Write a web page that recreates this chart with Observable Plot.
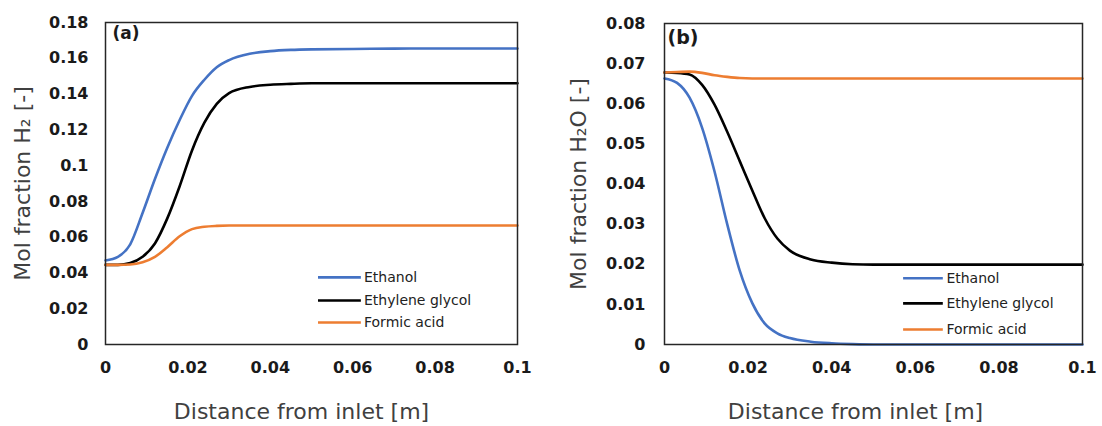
<!DOCTYPE html>
<html><head><meta charset="utf-8">
<script src="https://cdn.jsdelivr.net/npm/d3@7"></script>
<script src="https://cdn.jsdelivr.net/npm/@observablehq/plot@0.6"></script>
<style>
body{margin:0;background:#fff;}
#wrap{display:flex;width:1102px;height:426px;overflow:hidden;}
#wrap svg{overflow:visible;}
</style></head><body><div id="wrap"></div>
<script>
// ---- data ----
const distance = [0, 0.003, 0.006, 0.009, 0.012, 0.015, 0.018, 0.021, 0.024, 0.027, 0.030, 0.035, 0.040, 0.045, 0.050, 0.060, 0.070, 0.080, 0.090, 0.100];
const seriesNames = ["Ethanol", "Ethylene glycol", "Formic acid"];
const seriesColors = ["#4472C4", "#000000", "#ED7D31"];

// (a) mol fraction H2
const h2Ethanol = [0.0470, 0.0490, 0.0560, 0.0735, 0.0925, 0.1100, 0.1255, 0.1390, 0.1480, 0.1550, 0.1590, 0.1625, 0.1640, 0.1647, 0.1650, 0.1652, 0.1654, 0.1655, 0.1655, 0.1655];
const h2Glycol  = [0.0445, 0.0445, 0.0455, 0.0490, 0.0565, 0.0705, 0.0885, 0.1085, 0.1240, 0.1345, 0.1405, 0.1440, 0.1452, 0.1457, 0.1460, 0.1460, 0.1460, 0.1460, 0.1460, 0.1460];
const h2Formic  = [0.0445, 0.0445, 0.0447, 0.0460, 0.0490, 0.0544, 0.0605, 0.0645, 0.0658, 0.0663, 0.0665, 0.0665, 0.0665, 0.0665, 0.0665, 0.0665, 0.0665, 0.0665, 0.0665, 0.0665];

// (b) mol fraction H2O
const h2oEthanol = [0.0663, 0.0652, 0.0615, 0.0540, 0.0430, 0.0300, 0.0184, 0.0103, 0.0052, 0.0028, 0.0016, 0.0007, 0.0003, 0.0001, 0.0000, 0.0000, 0.0000, 0.0000, 0.0000, 0.0000];
const h2oGlycol  = [0.0678, 0.0677, 0.0673, 0.0647, 0.0597, 0.0530, 0.0457, 0.0384, 0.0314, 0.0264, 0.0234, 0.0212, 0.0204, 0.0200, 0.0199, 0.0199, 0.0199, 0.0199, 0.0199, 0.0199];
const h2oFormic  = [0.0678, 0.0679, 0.0680, 0.0677, 0.0671, 0.0667, 0.0664, 0.0663, 0.0663, 0.0663, 0.0663, 0.0663, 0.0663, 0.0663, 0.0663, 0.0663, 0.0663, 0.0663, 0.0663, 0.0663];

const xTicks = [0, 0.02, 0.04, 0.06, 0.08, 0.1];
const xTickLabels = ["0", "0.02", "0.04", "0.06", "0.08", "0.1"];
const yTicksA = [0, 0.02, 0.04, 0.06, 0.08, 0.1, 0.12, 0.14, 0.16, 0.18];
const yTickLabelsA = ["0", "0.02", "0.04", "0.06", "0.08", "0.1", "0.12", "0.14", "0.16", "0.18"];
const yTicksB = [0, 0.01, 0.02, 0.03, 0.04, 0.05, 0.06, 0.07, 0.08];
const yTickLabelsB = ["0", "0.01", "0.02", "0.03", "0.04", "0.05", "0.06", "0.07", "0.08"];

const xTitle = "Distance from inlet [m]";
const yTitleA = "Mol fraction H\u2082 [-]";
const yTitleB = "Mol fraction H\u2082O [-]";

// ---- build tables ----
function rows(seriesArrays) {
  const out = [];
  seriesArrays.forEach((arr, s) => {
    arr.forEach((v, i) => out.push({x: distance[i], y: v, series: seriesNames[s]}));
  });
  return out;
}
const dataA = rows([h2Ethanol, h2Glycol, h2Formic]);
const dataB = rows([h2oEthanol, h2oGlycol, h2oFormic]);

function panel(opts) {
  const legendRows = seriesNames.map((n, i) => ({series: n, y: opts.legend.y[i]}));
  return Plot.plot({
    width: opts.width, height: 426,
    marginLeft: opts.ml, marginRight: opts.mr, marginTop: opts.mt, marginBottom: 82,
    style: {fontFamily: "DejaVu Sans", background: "white", overflow: "visible"},
    x: {domain: [0, 0.1]},
    y: {domain: opts.yDomain},
    color: {domain: seriesNames, range: seriesColors},
    marks: [
      Plot.axisX({ticks: xTicks, tickFormat: d => xTickLabels[xTicks.indexOf(d)], tickSize: 0, tickPadding: 17,
        fontSize: 16, fontWeight: "bold", color: "#1a1a1a", label: null}),
      Plot.axisY({ticks: opts.yTicks, tickFormat: d => opts.yLabels[opts.yTicks.indexOf(d)], tickSize: 0, tickPadding: opts.yPad,
        fontSize: 16, fontWeight: "bold", color: "#1a1a1a", label: null}),
      Plot.line(opts.data, {x: "x", y: "y", z: "series", stroke: "series", strokeWidth: 2.6, curve: "monotone-x"}),
      Plot.frame({stroke: "#262626", strokeWidth: 1.5}),
      Plot.ruleY(legendRows, {y: "y", x1: opts.legend.x1, x2: opts.legend.x2, stroke: "series", strokeWidth: 2.6}),
      Plot.text(legendRows, {y: "y", x: opts.legend.xt, text: "series", textAnchor: "start", fontSize: 14,
        fontFamily: "DejaVu Sans", fill: "#222", dx: 1, style: "letter-spacing:0.6px"}),
      Plot.text([opts.tag], {frameAnchor: "top-left", dx: opts.tagDx, dy: opts.tagDy, fontSize: opts.tagSize, fontWeight: "bold",
        textAnchor: "start", lineAnchor: "top", fill: "#1a1a1a"}),
      Plot.text([opts.yTitle], {frameAnchor: "left", rotate: -90, dx: opts.yTitleDx, fontSize: 22, fill: "#404040",
        textAnchor: "middle", lineAnchor: "middle"}),
      Plot.text([xTitle], {frameAnchor: "bottom", dy: 67, dx: opts.xTitleDx, fontSize: 22, fill: "#404040",
        textAnchor: "middle", lineAnchor: "middle"})
    ]
  });
}

const wrap = document.getElementById("wrap");
wrap.appendChild(panel({
  width: 550, ml: 105, mr: 33, mt: 22, yDomain: [0, 0.18], yTicks: yTicksA, yLabels: yTickLabelsA, yPad: 17,
  data: dataA, tag: "(a)", tagDx: 7, tagDy: 4, tagSize: 17, yTitle: yTitleA, yTitleDx: -83, xTitleDx: -10,
  legend: {x1: 0.0517, x2: 0.0621, xt: 0.0625, y: [0.0375, 0.0246, 0.0123]}
}));
wrap.appendChild(panel({
  width: 552, ml: 114, mr: 20, mt: 23, yDomain: [0, 0.08], yTicks: yTicksB, yLabels: yTickLabelsB, yPad: 19,
  data: dataB, tag: "(b)", tagDx: 3, tagDy: 7, tagSize: 19, yTitle: yTitleB, yTitleDx: -86, xTitleDx: -18,
  legend: {x1: 0.0572, x2: 0.0667, xt: 0.0672, y: [0.0165, 0.01025, 0.00375]}
}));
</script>
</body></html>
